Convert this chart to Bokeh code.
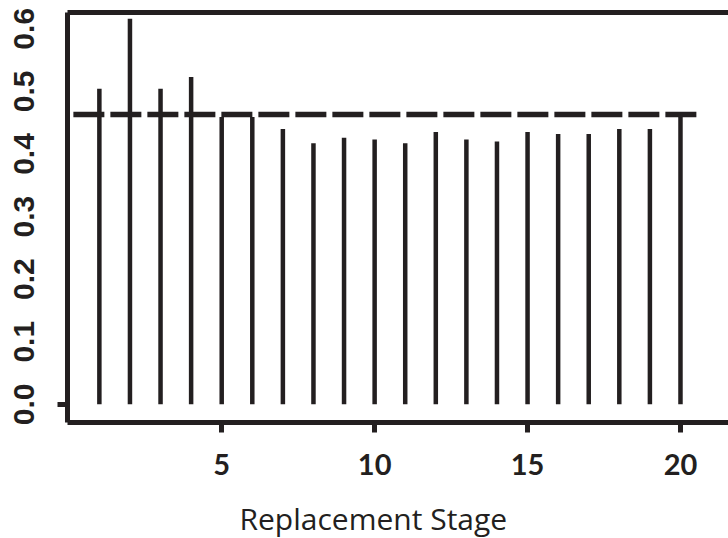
from bokeh.plotting import figure
from bokeh.models import LinearAxis, FixedTicker, Range1d, Title, NumeralTickFormatter, ColumnDataSource
from bokeh.embed import file_html
from bokeh.resources import INLINE

# ---- data ----
stages = list(range(1, 21))
values = [0.504, 0.616, 0.504, 0.523, 0.459, 0.459, 0.440, 0.417, 0.426, 0.423,
          0.417, 0.435, 0.423, 0.420, 0.435, 0.432, 0.432, 0.440, 0.440, 0.459]
baseline = [0.0] * len(stages)
ref_level = [0.463]
ref_x_start = [0.15]
ref_x_end = [20.55]
x_ticks = [5, 10, 15, 20]
y_ticks = [0.0, 0.1, 0.2, 0.3, 0.4, 0.5, 0.6]
y_tick_marks = [0.0]
x_label = "Replacement Stage"

INK = "#231f20"

p = figure(frame_width=661, frame_height=410,
           x_range=Range1d(-0.042, 21.57), y_range=Range1d(-0.029, 0.626),
           output_backend="svg", toolbar_location=None,
           x_axis_location=None, y_axis_location=None,
           min_border_left=67, min_border_right=0, min_border_top=12, min_border_bottom=116)
p.outline_line_color = None
p.xgrid.grid_line_color = None
p.ygrid.grid_line_color = None
p.background_fill_color = "white"
p.border_fill_color = "white"

src = ColumnDataSource(dict(x=stages, y0=baseline, y1=values))
p.segment(x0="x", y0="y0", x1="x", y1="y1", source=src,
          line_width=4.5, line_color=INK, line_cap="butt")

p.segment(x0=ref_x_start, y0=ref_level, x1=ref_x_end, y1=ref_level,
          line_width=5.5, line_color=INK, line_dash="31 6", line_cap="butt")

# bottom axis
xa = LinearAxis(ticker=FixedTicker(ticks=x_ticks, minor_ticks=[]))
xa.axis_line_width = 5
xa.axis_line_color = INK
xa.major_tick_out = 10
xa.major_tick_in = 0
xa.major_tick_line_width = 5
xa.major_tick_line_color = INK
xa.minor_tick_line_color = None
xa.major_label_text_font = "Lato"
xa.major_label_text_font_style = "bold"
xa.major_label_text_font_size = "29px"
xa.major_label_text_color = INK
xa.major_label_standoff = 21
p.add_layout(xa, "below")

p.add_layout(Title(text=x_label, align="left", offset=172, text_font="Open Sans",
                   text_font_size="30px", text_font_style="normal",
                   text_color=INK, standoff=36), "below")

# top border
ta = LinearAxis(ticker=FixedTicker(ticks=[], minor_ticks=[]))
ta.axis_line_width = 5
ta.axis_line_color = INK
ta.major_tick_out = 0
ta.major_tick_in = 0
ta.major_label_standoff = 0
ta.axis_label_standoff = 0
p.add_layout(ta, "above")

# left axis: line, labels, single tick mark at 0 (as minor tick)
ya = LinearAxis(ticker=FixedTicker(ticks=y_ticks, minor_ticks=y_tick_marks),
                formatter=NumeralTickFormatter(format="0.0"))
ya.axis_line_width = 5
ya.axis_line_color = INK
ya.major_tick_line_color = None
ya.major_tick_out = 10
ya.major_tick_in = 0
ya.minor_tick_out = 10
ya.minor_tick_in = 0
ya.minor_tick_line_width = 5
ya.minor_tick_line_color = INK
ya.major_label_orientation = "vertical"
ya.major_label_text_font = "Liberation Sans"
ya.major_label_text_font_style = "bold"
ya.major_label_text_font_size = "30px"
ya.major_label_text_color = INK
ya.major_label_standoff = 23
p.add_layout(ya, "left")

open("out.html", "w").write(file_html(p, INLINE))
